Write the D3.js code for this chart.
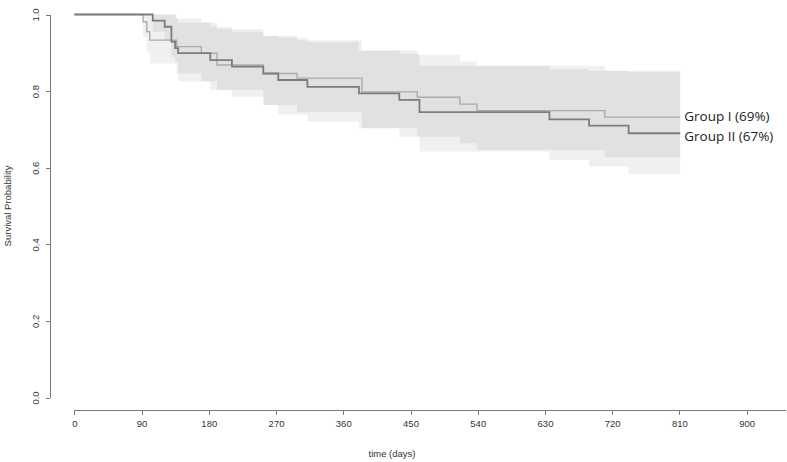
<!DOCTYPE html>
<html lang="en">
<head>
    <meta charset="UTF-8">
    <title>Survival by group</title>
    <style>
    body {
        margin: 0;
        background: #fff;
    }
    svg {
        width: 787px;
        height: 462px;
        display: block;
    }
    .axis path, .axis line {
        stroke: #7a7a7a;
        stroke-width: 1px;
        shape-rendering: crispEdges;
    }
    .axis text {
        font-family: "Liberation Sans", Arial, sans-serif;
        font-size: 9.5px;
        fill: #333;
    }
    .title {
        font-family: "Liberation Sans", Arial, sans-serif;
        font-size: 9.5px;
        fill: #333;
    }
    .band {
        fill: #000;
        fill-opacity: 0.058;
        stroke: none;
    }
    .curve {
        fill: none;
    }
    .group-label {
        font-family: "Open Sans", sans-serif;
        font-size: 13.5px;
        fill: #222;
    }
    </style>
</head>
<body>
    <div id="chart"></div>
    <script src="https://d3js.org/d3.v7.min.js"></script>
    <script>
        // Group I (light line)
        var timesI = [0, 92, 97, 101, 137, 170, 191, 253, 298, 385, 459, 516, 539, 710, 811];
        var survI  = [1, 0.981, 0.955, 0.933, 0.916, 0.899, 0.868, 0.846, 0.834, 0.798, 0.784, 0.766, 0.749, 0.732, 0.732];
        var lowerI = [1, 0.941, 0.900, 0.872, 0.846, 0.825, 0.803, 0.764, 0.745, 0.703, 0.681, 0.664, 0.646, 0.627, 0.627];
        var upperI = [1, 1, 1, 1, 0.990, 0.979, 0.962, 0.944, 0.933, 0.907, 0.894, 0.877, 0.866, 0.853, 0.853];

        // Group II (dark line)
        var timesII = [0, 105, 121, 130, 135, 139, 182, 211, 253, 273, 312, 381, 435, 462, 636, 689, 742, 811];
        var survII  = [1, 0.984, 0.968, 0.929, 0.912, 0.899, 0.881, 0.864, 0.846, 0.829, 0.811, 0.794, 0.777, 0.745, 0.726, 0.710, 0.690, 0.690];
        var lowerII = [1, 0.955, 0.930, 0.890, 0.875, 0.825, 0.803, 0.785, 0.764, 0.739, 0.720, 0.703, 0.681, 0.642, 0.620, 0.603, 0.584, 0.584];
        var upperII = [1, 1, 1, 1, 0.990, 0.979, 0.968, 0.955, 0.944, 0.940, 0.928, 0.905, 0.898, 0.866, 0.858, 0.853, 0.850, 0.850];

        var groupNames = ["Group I (69%)", "Group II (67%)"];
        var xTicks = [0, 90, 180, 270, 360, 450, 540, 630, 720, 810, 900];
        var yTicks = [0, 0.2, 0.4, 0.6, 0.8, 1.0];

        function rows(t, s, lo, hi) {
            return t.map(function(d, i) { return {t: d, s: s[i], lo: lo[i], hi: hi[i]}; });
        }
        var groups = [
            {name: groupNames[0], data: rows(timesI, survI, lowerI, upperI), color: "#ababab", width: 1.4, dy: -1},
            {name: groupNames[1], data: rows(timesII, survII, lowerII, upperII), color: "#7c7c7c", width: 1.8, dy: 3}
        ];

        var svg = d3.select("#chart").append("svg");

        var x = d3.scaleLinear().domain([0, 900]).range([74.3, 746.7]);
        var y = d3.scaleLinear().domain([0, 1]).range([397.5, 14.5]);

        var area = d3.area()
            .curve(d3.curveStepAfter)
            .x(function(d) { return x(d.t); })
            .y0(function(d) { return y(d.lo); })
            .y1(function(d) { return y(d.hi); });

        var line = d3.line()
            .curve(d3.curveStepAfter)
            .x(function(d) { return x(d.t); })
            .y(function(d) { return y(d.s); });

        svg.selectAll("path.band")
            .data(groups)
            .enter().append("path")
            .attr("class", "band")
            .attr("d", function(d) { return area(d.data); });

        svg.selectAll("path.curve")
            .data(groups)
            .enter().append("path")
            .attr("class", "curve")
            .attr("stroke", function(d) { return d.color; })
            .attr("stroke-width", function(d) { return d.width; })
            .attr("d", function(d) { return line(d.data); });

        svg.selectAll("text.group-label")
            .data(groups)
            .enter().append("text")
            .attr("class", "group-label")
            .attr("x", function(d) { return x(d.data[d.data.length - 1].t) + 4; })
            .attr("y", function(d) { return y(d.data[d.data.length - 1].s) + d.dy; })
            .attr("dominant-baseline", "central")
            .text(function(d) { return d.name; });

        // x axis
        var xAxis = svg.append("g")
            .attr("class", "axis")
            .attr("transform", "translate(0,410.5)")
            .call(d3.axisBottom(x).tickValues(xTicks).tickSize(4).tickSizeOuter(0).tickPadding(6));
        xAxis.select(".domain").attr("d", "M" + x(0) + ",0H786");

        // y axis
        var yAxis = svg.append("g")
            .attr("class", "axis")
            .attr("transform", "translate(49.5,0)")
            .call(d3.axisLeft(y).tickValues(yTicks).tickFormat(d3.format(".1f")).tickSize(4).tickSizeOuter(0));
        yAxis.selectAll(".tick text")
            .attr("x", 0)
            .attr("dy", 0)
            .attr("text-anchor", "middle")
            .attr("transform", "translate(-11,0) rotate(-90)");

        svg.append("text")
            .attr("class", "title")
            .attr("x", 392)
            .attr("y", 457)
            .attr("text-anchor", "middle")
            .text("time (days)");

        svg.append("text")
            .attr("class", "title")
            .attr("text-anchor", "middle")
            .attr("transform", "translate(10.5,206) rotate(-90)")
            .text("Survival Probability");
    </script>
</body>
</html>
